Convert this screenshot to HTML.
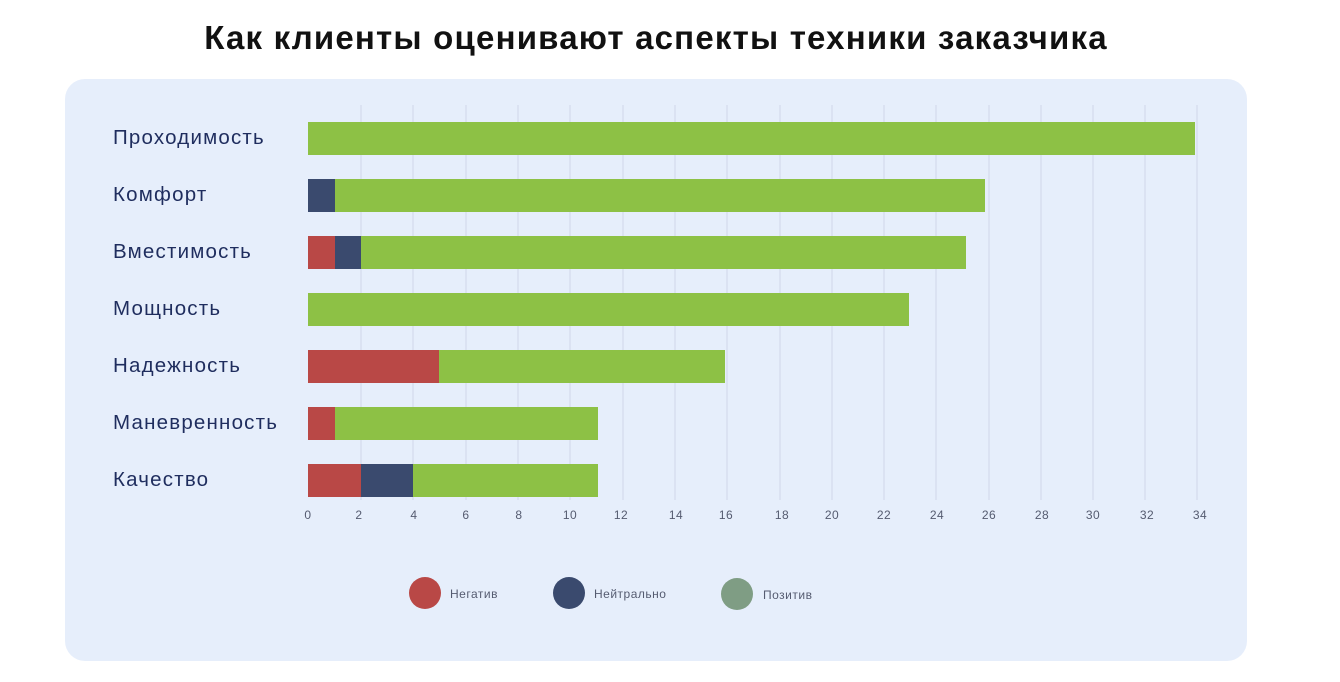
<!DOCTYPE html>
<html><head><meta charset="utf-8"><style>
body{margin:0;width:1340px;height:682px;background:#fff;font-family:"Liberation Sans",sans-serif;position:relative;overflow:hidden}
.t{position:absolute;left:0;width:1312px;top:19px;text-align:center;font-size:33px;font-weight:bold;color:#111;letter-spacing:1.2px}
.p{position:absolute;left:65px;top:79px;width:1182px;height:582px;background:#e6eefb;border-radius:20px}
</style></head><body>
<div class="t">Как клиенты оценивают аспекты техники заказчика</div>
<div class="p"></div>
<svg width="1340" height="682" style="position:absolute;left:0;top:0">
<g stroke="#d0d7e8" stroke-width="1">
<line x1="361" y1="105" x2="361" y2="500"/><line x1="413" y1="105" x2="413" y2="500"/><line x1="466" y1="105" x2="466" y2="500"/><line x1="518" y1="105" x2="518" y2="500"/><line x1="570" y1="105" x2="570" y2="500"/><line x1="623" y1="105" x2="623" y2="500"/><line x1="675" y1="105" x2="675" y2="500"/><line x1="727" y1="105" x2="727" y2="500"/><line x1="780" y1="105" x2="780" y2="500"/><line x1="832" y1="105" x2="832" y2="500"/><line x1="884" y1="105" x2="884" y2="500"/><line x1="936" y1="105" x2="936" y2="500"/><line x1="989" y1="105" x2="989" y2="500"/><line x1="1041" y1="105" x2="1041" y2="500"/><line x1="1093" y1="105" x2="1093" y2="500"/><line x1="1145" y1="105" x2="1145" y2="500"/><line x1="1197" y1="105" x2="1197" y2="500"/>
</g>
<g>
<rect x="308" y="122" width="887" height="33" fill="#8dc145"/>
<rect x="308" y="179" width="677" height="33" fill="#8dc145"/><rect x="308" y="179" width="27" height="33" fill="#3a4a6e"/>
<rect x="308" y="236" width="658" height="33" fill="#8dc145"/><rect x="308" y="236" width="27" height="33" fill="#b94846"/><rect x="335" y="236" width="26" height="33" fill="#3a4a6e"/>
<rect x="308" y="293" width="601" height="33" fill="#8dc145"/>
<rect x="308" y="350" width="417" height="33" fill="#8dc145"/><rect x="308" y="350" width="131" height="33" fill="#b94846"/>
<rect x="308" y="407" width="290" height="33" fill="#8dc145"/><rect x="308" y="407" width="27" height="33" fill="#b94846"/>
<rect x="308" y="464" width="290" height="33" fill="#8dc145"/><rect x="308" y="464" width="53" height="33" fill="#b94846"/><rect x="361" y="464" width="52" height="33" fill="#3a4a6e"/>
</g>
<g font-size="20.5" fill="#1f2d5e" letter-spacing="1.2">
<text x="113" y="144">Проходимость</text><text x="113" y="201">Комфорт</text><text x="113" y="258">Вместимость</text><text x="113" y="315">Мощность</text><text x="113" y="372">Надежность</text><text x="113" y="429">Маневренность</text><text x="113" y="486">Качество</text>
</g>
<g font-size="12" fill="#555b70" text-anchor="middle" letter-spacing="0.5">
<text x="308" y="519">0</text><text x="359" y="519">2</text><text x="414" y="519">4</text><text x="466" y="519">6</text><text x="519" y="519">8</text><text x="570" y="519">10</text><text x="621" y="519">12</text><text x="676" y="519">14</text><text x="726" y="519">16</text><text x="782" y="519">18</text><text x="832" y="519">20</text><text x="884" y="519">22</text><text x="937" y="519">24</text><text x="989" y="519">26</text><text x="1042" y="519">28</text><text x="1093" y="519">30</text><text x="1147" y="519">32</text><text x="1200" y="519">34</text>
</g>
<circle cx="425" cy="593" r="16" fill="#b94846"/><circle cx="569" cy="593" r="16" fill="#3a4a6e"/><circle cx="737" cy="594" r="16" fill="#7f9d84"/>
<g font-size="12" fill="#555b70" letter-spacing="0.5"><text x="450" y="598">Негатив</text><text x="594" y="598">Нейтрально</text><text x="763" y="599">Позитив</text></g>
</svg>
</body></html>
